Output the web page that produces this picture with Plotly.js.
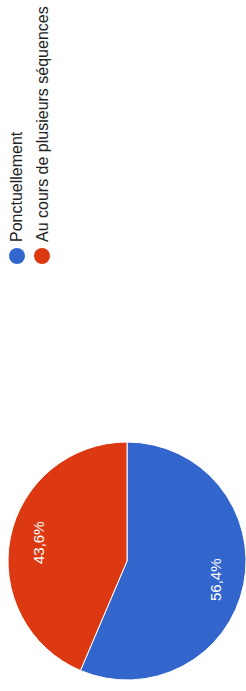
<!DOCTYPE html>
<html>
<head>
<meta charset="utf-8">
<script src="https://cdn.plot.ly/plotly-3.0.1.min.js"></script>
<style>
html, body { margin: 0; padding: 0; background: #fff; overflow: hidden; }
#wrap { width: 246px; height: 691px; position: relative; overflow: hidden; }
#chart { position: absolute; left: 0; top: 0; width: 691px; height: 246px;
  transform-origin: 0 0; transform: translateY(691px) rotate(-90deg); }
</style>
</head>
<body>
<div id="wrap"><div id="chart"></div></div>
<script>
// Data
const labels = ["Ponctuellement", "Au cours de plusieurs séquences"];
const values = [56.4, 43.6];
const colors = ["#3366cc", "#dc3912"];
const valueText = ["56,4%", "43,6%"];

const W = 691, H = 246;
const font = "Liberation Sans, Arial, sans-serif";

// pie geometry (pixels in the unrotated chart)
const pieX0 = 11, pieX1 = 249, pieTop = 8, pieBottom = 246;
const startDeg = 90; // plotly rotation: first slice starts at 3 o'clock

const trace = {
  type: "pie",
  labels: labels,
  values: values,
  textinfo: "none",
  sort: false,
  direction: "clockwise",
  rotation: startDeg,
  marker: { colors: colors, line: { color: "#ffffff", width: 1 } },
  domain: { x: [pieX0 / W, pieX1 / W], y: [1 - pieBottom / H, 1 - pieTop / H] },
  showlegend: false,
  hoverinfo: "none"
};

const shapes = [], annotations = [];

// slice labels placed at the slice mid-angle, derived from the values
const total = values.reduce((a, b) => a + b, 0);
const cx = (pieX0 + pieX1) / 2, cy = (pieTop + pieBottom) / 2;
const r = Math.min(pieX1 - pieX0, pieBottom - pieTop) / 2;
let cum = 0;
values.forEach((v, i) => {
  const midFrac = (cum + v / 2) / total;
  cum += v;
  // clockwise angle from 12 o'clock
  const a = (startDeg + midFrac * 360) * Math.PI / 180;
  const px = cx + 0.76 * r * Math.sin(a);
  const py = cy - 0.76 * r * Math.cos(a);
  annotations.push({
    xref: "paper", yref: "paper",
    x: px / W, y: 1 - py / H,
    xanchor: "center", yanchor: "middle",
    text: valueText[i], showarrow: false,
    font: { family: font, size: 15, color: "#ffffff" }
  });
});

// Legend drawn with circles + annotations
const legX = 435, legY0 = 17, legStep = 25;
labels.forEach((lab, i) => {
  const ly = 1 - (legY0 + i * legStep) / H;
  shapes.push({
    type: "circle", xref: "paper", yref: "paper",
    xsizemode: "pixel", ysizemode: "pixel",
    xanchor: legX / W, yanchor: ly,
    x0: -8, x1: 8, y0: -8, y1: 8,
    fillcolor: colors[i], line: { width: 0 }
  });
  annotations.push({
    xref: "paper", yref: "paper",
    x: (legX + 12) / W, y: ly,
    xanchor: "left", yanchor: "middle",
    text: lab, showarrow: false,
    font: { family: font, size: 16, color: "#222222" }
  });
});

const layout = {
  width: W, height: H,
  margin: { l: 0, r: 0, t: 0, b: 0 },
  paper_bgcolor: "#ffffff",
  showlegend: false,
  shapes: shapes,
  annotations: annotations
};

Plotly.newPlot("chart", [trace], layout, { displayModeBar: false, staticPlot: true });
</script>
</body>
</html>
